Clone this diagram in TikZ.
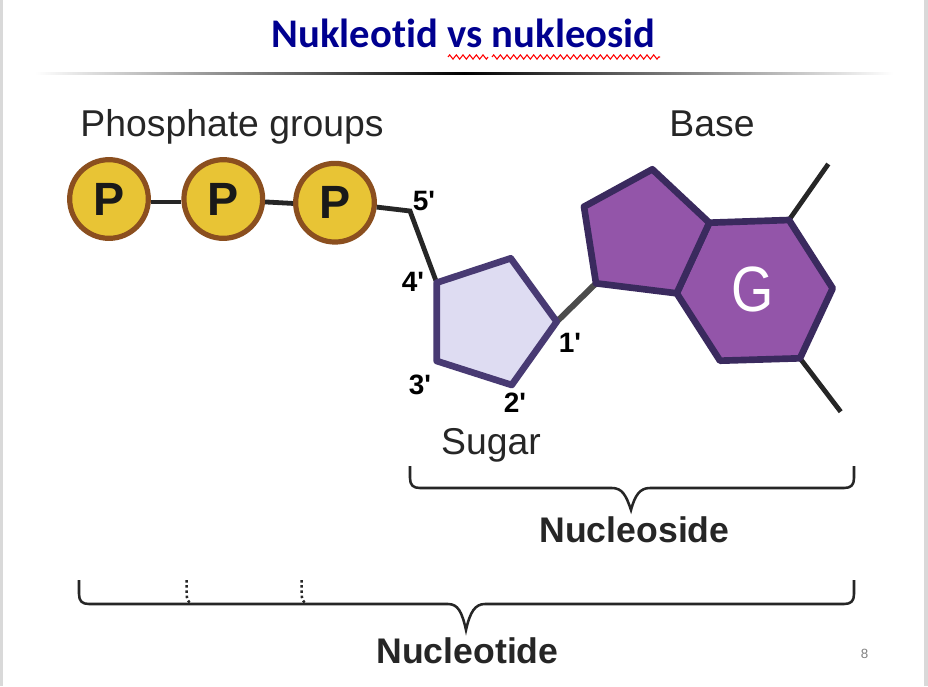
\documentclass[tikz,border=0pt]{standalone}
\usepackage{fontspec}
\setmainfont{Liberation Sans}
\newfontfamily\titlefont[Ligatures=NoCommon]{Carlito}
\usetikzlibrary{decorations.pathmorphing}
\definecolor{titleblue}{HTML}{000090}
\definecolor{inkgray}{HTML}{262626}
\definecolor{phosfill}{HTML}{E8C435}
\definecolor{phosline}{HTML}{8B4F1F}
\definecolor{sugarfill}{HTML}{DEDCF2}
\definecolor{sugarline}{HTML}{483A73}
\definecolor{basefill}{HTML}{9355A9}
\definecolor{baseline}{HTML}{3A2A5E}
\definecolor{edgegray}{HTML}{D9D9D9}

\begin{document}
\begin{tikzpicture}[
  x=0.75pt, y=-0.75pt,
  phos/.style={draw=phosline, fill=phosfill, circle, line width=3.9pt, minimum size=59pt, inner sep=0pt, text=black!90, font=\fontsize{35}{35}\selectfont\bfseries},
  label/.style={text=inkgray, inner sep=0pt, anchor=base, font=\fontsize{28}{30}\selectfont},
  total/.style={text=inkgray, inner sep=0pt, font=\fontsize{26.7}{30}\selectfont\bfseries},
  prime/.style={text=black, inner sep=0pt, font=\fontsize{21}{21}\selectfont\bfseries},
  bond/.style={draw=black!85, line width=3.6pt},
  ring/.style={line width=5pt, line join=round},
  brace/.style={draw=inkgray, line width=1.9pt},
  squig/.style={draw=red, line width=0.8pt, decorate, decoration={zigzag, segment length=5pt, amplitude=1.6pt}}
]
% slide
\useasboundingbox (0,0) rectangle (928,686);
\fill[edgegray] (0,0) rectangle (928,686);
\fill[white] (3,0) rectangle (924,686);

% title
\node[font=\titlefont\fontsize{30.5}{32}\selectfont\bfseries, text=titleblue, inner sep=0pt] (title) at (463.5,33.5) {Nukleotid vs nukleosid};
\coordinate (sq1) at (448,57);
\coordinate (sq2) at (488,57);
\coordinate (sq3) at (492,57);
\coordinate (sq4) at (660,57);
\draw[squig] (sq1) -- (sq2);
\draw[squig] (sq3) -- (sq4);
\shade[left color=white, right color=white, middle color=black] (35,72) rectangle (893,74);

% phosphates
\node[label] (plabel) at (232,136) {Phosphate groups};
\node[label] (blabel) at (712,136) {Base};
\node[phos] (p1) at (109,199) {P};
\node[phos] (p2) at (223.3,199) {P};
\node[phos] (p3) at (335,202.7) {P};

\coordinate (c5) at (410,211);
\coordinate (c4) at (436.7,282.7);
\coordinate (c3) at (436.7,361);
\coordinate (c2) at (511.7,385);
\coordinate (c1) at (556.7,321.7);
\coordinate (c0) at (510.7,258.3);

\coordinate (b1) at (596,283.3);
\coordinate (b2) at (584,206.7);
\coordinate (b3) at (652.3,169.3);
\coordinate (b4) at (709.3,222.7);
\coordinate (b5) at (676.7,293.3);
\coordinate (h1) at (789,220);
\coordinate (h2) at (832.7,288.3);
\coordinate (h3) at (800,358.3);
\coordinate (h4) at (720,360.7);
\coordinate (t1) at (828.3,164);
\coordinate (t2) at (840.7,411.7);

\draw[bond] (p1.-4) -- (p2.184);
\draw[bond] (p2.-4) -- (p3.181);
\draw[bond] (p3.-6) -- (c5) -- (c4);
\draw[bond] (h1) -- (t1);
\draw[bond] (h3) -- (t2);
\draw[draw=black!70, line width=4.5pt] (c1) -- (b1);

% sugar
\draw[ring, draw=sugarline, fill=sugarfill] (c4) -- (c0) -- (c1) -- (c2) -- (c3) -- cycle;
% base
\draw[ring, draw=baseline, fill=basefill] (b4) -- (h1) -- (h2) -- (h3) -- (h4) -- (b5) -- cycle;
\draw[ring, draw=baseline, fill=basefill] (b1) -- (b2) -- (b3) -- (b4) -- (b5) -- cycle;
\node[text=white, inner sep=0pt, font=\fontsize{48}{48}\selectfont] (g) at (753,289) {\scalebox{.85}[1]{G}};

\node[prime] (n5) at (424,201) {5\textquotesingle};
\node[prime] (n4) at (413,282) {4\textquotesingle};
\node[prime] (n3) at (420,385) {3\textquotesingle};
\node[prime] (n2) at (515,403) {2\textquotesingle};
\node[prime] (n1) at (570,343) {1\textquotesingle};
\node[label] (slabel) at (491,454) {Sugar};

% braces
\draw[brace] (410,466) -- (410,478) .. controls (410,485) and (413,488) .. (420,488) -- (612,488)
  .. controls (622,488) and (626,495) .. (631,510) .. controls (635,495) and (640,488) .. (650,488)
  -- (844,488) .. controls (851,488) and (854,485) .. (854,478) -- (854,466);
\node[total] (nside) at (634.5,530) {Nucleoside};

\draw[brace] (79,580) -- (79,594) .. controls (79,601) and (82,604) .. (89,604) -- (448,604)
  .. controls (458,604) and (462,612) .. (466,630) .. controls (470,612) and (475,604) .. (485,604)
  -- (844,604) .. controls (851,604) and (854,601) .. (854,594) -- (854,580);
\draw[brace, dotted] (186.7,580) -- (186.7,594) .. controls (186.7,599) and (188,602) .. (191.7,604);
\draw[brace, dotted] (301.7,580) -- (301.7,594) .. controls (301.7,599) and (303,602) .. (306.7,604);
\node[total] (ntide) at (467.5,651) {Nucleotide};

\node[text=black!50, inner sep=0pt, font=\fontsize{10}{10}\selectfont] (pageno) at (864.5,654) {8};
\end{tikzpicture}
\end{document}
